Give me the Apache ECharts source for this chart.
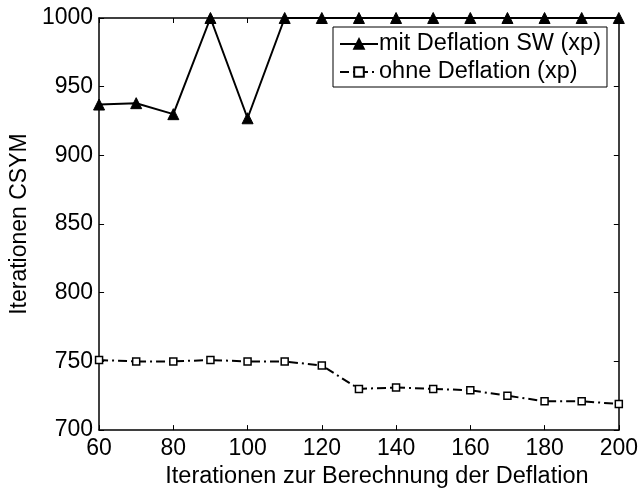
<!DOCTYPE html>
<html>
<head>
<meta charset="utf-8">
<script src="https://cdn.jsdelivr.net/npm/echarts@6/dist/echarts.min.js"></script>
<style>
html,body{margin:0;padding:0;background:#fff;}
#chart{width:641px;height:494px;}
</style>
</head>
<body>
<div id="chart"></div>
<script>
const xValues = [60, 70, 80, 90, 100, 110, 120, 130, 140, 150, 160, 170, 180, 190, 200];
const mitDeflation = [937, 938, 930, 1000, 927, 1000, 1000, 1000, 1000, 1000, 1000, 1000, 1000, 1000, 1000];
const ohneDeflation = [751, 750, 750, 751, 750, 750, 747, 730, 731, 730, 729, 725, 721, 721, 719];
const seriesNames = ['mit Deflation SW (xp)', 'ohne Deflation (xp)'];
const xTitle = 'Iterationen zur Berechnung der Deflation';
const yTitle = 'Iterationen CSYM';

const FONT = '"Liberation Sans", Arial, Helvetica, sans-serif';
const chart = echarts.init(document.getElementById('chart'), null, {renderer: 'canvas'});

const axisLineStyle = {color: '#000', width: 1.5};
const tickStyle = {show: true, inside: true, length: 5, lineStyle: {color: '#000', width: 1}};
const plain = v => String(v);

chart.setOption({
  animation: false,
  backgroundColor: '#fff',
  grid: {left: 98, right: 20, top: 18, bottom: 53, containLabel: false},
  legend: {
    orient: 'vertical',
    left: 333,
    top: 27,
    padding: [5, 6, 3, 6],
    itemWidth: 38,
    itemHeight: 12,
    itemGap: 4,
    backgroundColor: '#fff',
    borderColor: '#000',
    borderWidth: 1,
    borderRadius: 0,
    textStyle: {fontFamily: FONT, fontSize: 23.5, color: '#000', lineHeight: 24, padding: [0, 0, 0, -4]},
    data: seriesNames
  },
  xAxis: [{
    type: 'value',
    min: 60, max: 200, interval: 20,
    name: xTitle,
    nameLocation: 'middle',
    nameGap: 33,
    nameTextStyle: {fontFamily: FONT, fontSize: 23.5, color: '#000', padding: [0, 0, 0, 36]},
    axisLine: {show: true, lineStyle: axisLineStyle},
    axisTick: tickStyle,
    axisLabel: {fontFamily: FONT, fontSize: 23, color: '#000', margin: 7, formatter: plain},
    splitLine: {show: false}
  }, {
    type: 'value',
    position: 'top',
    min: 60, max: 200, interval: 20,
    axisLine: {show: true, lineStyle: axisLineStyle},
    axisTick: tickStyle,
    axisLabel: {show: false},
    splitLine: {show: false}
  }],
  yAxis: [{
    type: 'value',
    min: 700, max: 1000, interval: 50,
    name: yTitle,
    nameLocation: 'middle',
    nameGap: 66,
    nameTextStyle: {fontFamily: FONT, fontSize: 23, color: '#000'},
    axisLine: {show: true, lineStyle: axisLineStyle},
    axisTick: tickStyle,
    axisLabel: {fontFamily: FONT, fontSize: 23, color: '#000', margin: 6, formatter: plain},
    splitLine: {show: false}
  }, {
    type: 'value',
    position: 'right',
    min: 700, max: 1000, interval: 50,
    axisLine: {show: true, lineStyle: axisLineStyle},
    axisTick: tickStyle,
    axisLabel: {show: false},
    splitLine: {show: false}
  }],
  series: [{
    name: seriesNames[0],
    type: 'line',
    xAxisIndex: 0, yAxisIndex: 0,
    data: xValues.map((x, i) => [x, mitDeflation[i]]),
    symbol: 'triangle',
    symbolSize: 11,
    showAllSymbol: true,
    clip: false,
    lineStyle: {color: '#000', width: 2, type: 'solid'},
    itemStyle: {color: '#000', borderColor: '#000', borderWidth: 1}
  }, {
    name: seriesNames[1],
    type: 'line',
    xAxisIndex: 0, yAxisIndex: 0,
    data: xValues.map((x, i) => [x, ohneDeflation[i]]),
    symbol: 'rect',
    symbolSize: 7,
    showAllSymbol: true,
    clip: false,
    lineStyle: {color: '#000', width: 2, type: [9, 4, 2, 4]},
    itemStyle: {color: '#fff', borderColor: '#000', borderWidth: 1.5}
  }]
});
</script>
</body>
</html>
